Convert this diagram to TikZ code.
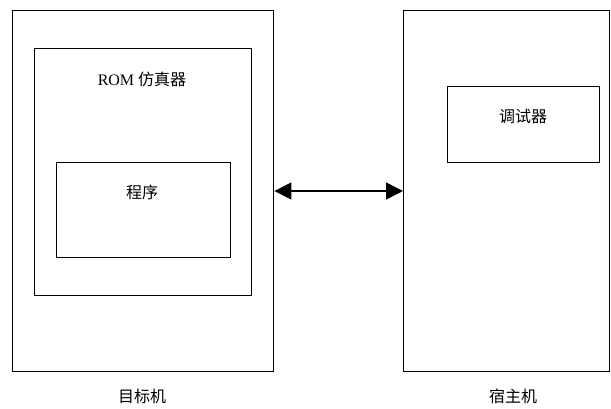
\documentclass[tikz,border=0pt]{standalone}
\usepackage{fontspec}
\setmainfont{Liberation Serif}
\newfontfamily\cjk{Noto Sans CJK SC}
\usetikzlibrary{arrows.meta}
\begin{document}
\begin{tikzpicture}[x=1pt,y=-1pt,
  box/.style={draw=black,line width=1.4pt},
  lbl/.style={font=\fontsize{16}{18}\selectfont, inner sep=0pt},
  conn/.style={line width=1.4pt,{Triangle[length=17pt,width=17pt]}-{Triangle[length=17pt,width=17pt]}}]
\useasboundingbox (0,0) rectangle (611,409);
\node[box,minimum width=261pt,minimum height=361pt,inner sep=0pt,anchor=north west] (target) at (12,10) {};
\node[box,minimum width=217pt,minimum height=247pt,inner sep=0pt,anchor=north west] (rom) at (34,48) {};
\node[box,minimum width=174pt,minimum height=95pt,inner sep=0pt,anchor=north west] (prog) at (56,162) {};
\node[box,minimum width=206pt,minimum height=361pt,inner sep=0pt,anchor=north west] (host) at (403,10) {};
\node[box,minimum width=152pt,minimum height=76pt,inner sep=0pt,anchor=north west] (dbg) at (447,86) {};
\node[lbl] (romlbl) at (142,79) {ROM {\cjk 仿真器}};
\node[lbl] (proglbl) at (142,192) {\cjk 程序};
\node[lbl] (dbglbl) at (523,116) {\cjk 调试器};
\node[lbl] (targetlbl) at (142,396) {\cjk 目标机};
\node[lbl] (hostlbl) at (513,396) {\cjk 宿主机};
\coordinate (a) at (target.east |- 0,191);
\coordinate (b) at (host.west |- 0,191);
\draw[conn] (a) -- (b);
\end{tikzpicture}
\end{document}
